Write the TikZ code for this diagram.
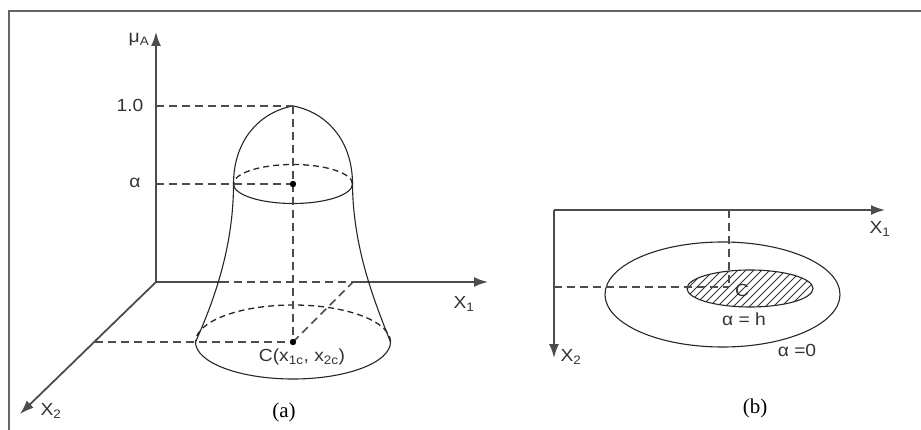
\documentclass[tikz,border=0pt]{standalone}
\usepackage{fontspec}
\setmainfont{Liberation Sans}[FakeStretch=1.1]
\newfontfamily\capfont{Liberation Serif}
\usetikzlibrary{arrows.meta}

\begin{document}
\begin{tikzpicture}[x=1pt,y=-1pt,
    axisline/.style={draw=black!70, line width=1.8pt},
    axis/.style={axisline, -{Latex[length=14pt,width=10pt]}},
    helper/.style={draw=black!70, line width=1.6pt, dash pattern=on 8pt off 5pt},
    rim/.style={draw=black!85, line width=1.1pt},
    hidden/.style={rim, line width=1.3pt, dash pattern=on 6pt off 4pt},
    lbl/.style={font=\fontsize{17.5}{20}\selectfont, text=black!80, inner sep=0pt},
    subcap/.style={font=\capfont\fontsize{21}{24}\selectfont, inner sep=0pt}]

    \useasboundingbox (0,0) rectangle (921,430);
    % Rahmen:
    \draw[black!60, line width=2pt] (9,430) -- (9,11) -- (921,11);

    % (a) Achsen:
    \coordinate (O) at (156,282);
    \coordinate (muTip) at (156,32);
    \coordinate (xoneTip) at (488,282);
    \coordinate (xtwoTip) at (20,414);
    \coordinate (hidA) at (221,282);
    \coordinate (hidB) at (353,282);
    \draw[axis] (O) -- (muTip);
    \draw[axisline] (O) -- (hidA);
    \draw[helper] (hidA) -- (hidB);
    \draw[axis] (hidB) -- (xoneTip);
    \draw[axis] (O) -- (xtwoTip);
    \node[lbl] (muLab) at (139,40) {μ\textsubscript{A}};
    \node[lbl] (xoneLab) at (464,304) {X\textsubscript{1}};
    \node[lbl] (xtwoLab) at (51,411) {X\textsubscript{2}};

    % Glocke:
    \coordinate (top) at (293,106);
    \coordinate (alphaC) at (293,184);
    \coordinate (alphaL) at (233.5,184);
    \coordinate (alphaR) at (352.5,184);
    \coordinate (C) at (293,342);
    \coordinate (baseL) at (195.5,342);
    \coordinate (baseR) at (390.5,342);
    \draw[rim] (top) .. controls (260,112) and (233.5,140) .. (alphaL)
        .. controls (233.5,250) and (212,305) .. (baseL);
    \draw[rim] (top) .. controls (326,112) and (352.5,140) .. (alphaR)
        .. controls (353,250) and (376,305) .. (baseR);
    % alpha-Schnitt:
    \draw[rim] (alphaL) arc[start angle=180, end angle=360, x radius=59.5pt, y radius=19.5pt];
    \draw[hidden] (alphaR) arc[start angle=0, end angle=180, x radius=59.5pt, y radius=19.5pt];
    % Grundflaeche:
    \draw[rim] (baseL) arc[start angle=180, end angle=360, x radius=97.5pt, y radius=37pt];
    \draw[hidden] (baseR) arc[start angle=0, end angle=180, x radius=97.5pt, y radius=37pt];

    % Hilfslinien:
    \coordinate (oneAx) at (156,106);
    \coordinate (alphaAx) at (156,184);
    \coordinate (ctwoAx) at (95,342);
    \draw[helper] (oneAx) -- (top);
    \draw[helper] (alphaAx) -- (alphaC);
    \draw[helper] (top) -- (C);
    \draw[helper] (ctwoAx) -- (C);
    \draw[helper] (C) -- (hidB);
    \fill[black] (alphaC) circle (3.2pt);
    \fill[black] (C) circle (3.2pt);
    \node[lbl] (oneLab) at (130,105) {1.0};
    \node[lbl] (alphaLab) at (135,183) {α};
    \node[lbl] (cLab) at (302,357) {C(x\textsubscript{1c}, x\textsubscript{2c})};
    \node[subcap] (aLab) at (284,412) {(a)};

    % (b) Achsen:
    \coordinate (P) at (554,210);
    \coordinate (ponTip) at (885,210);
    \coordinate (ptwTip) at (554,358);
    \draw[axis] (P) -- (ponTip);
    \draw[axis] (P) -- (ptwTip);
    \node[lbl] (ponLab) at (880,229) {X\textsubscript{1}};
    \node[lbl] (ptwLab) at (571,357) {X\textsubscript{2}};

    % Schnittmengen:
    \coordinate (bigC) at (722.5,294.5);
    \coordinate (smallC) at (750,288.5);
    \draw[rim] (bigC) ellipse[x radius=117.5pt, y radius=52.5pt];
    \begin{scope}
        \clip (smallC) ellipse[x radius=63pt, y radius=18.5pt];
        \foreach \i in {0,...,23}
            \draw[black!80, line width=0.9pt] (640+8*\i,312) -- ++(48,-48);
    \end{scope}
    \draw[rim] (smallC) ellipse[x radius=63pt, y radius=18.5pt];
    \coordinate (cb) at (729,287);
    \coordinate (cbOne) at (729,210);
    \coordinate (cbTwo) at (554,287);
    \draw[helper] (cbOne) -- (cb);
    \draw[helper] (cbTwo) -- (cb);
    \node[lbl] (cbLab) at (742,290) {C};
    \node[lbl] (hLab) at (744,319) {α = h};
    \node[lbl] (zLab) at (797,350) {α =0};
    \node[subcap] (bLab) at (755,408) {(b)};
\end{tikzpicture}
\end{document}
